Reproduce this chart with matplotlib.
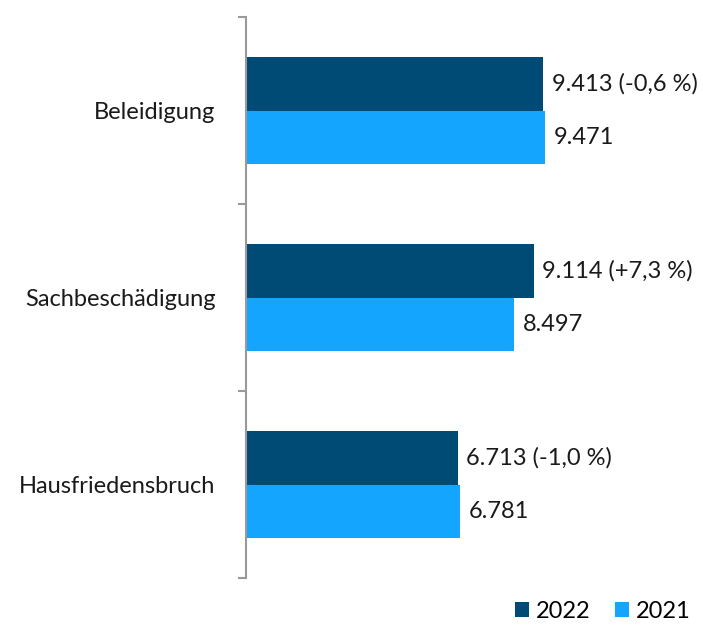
import matplotlib.pyplot as plt
import numpy as np

plt.rcParams['font.family'] = ['Lato', 'DejaVu Sans']

categories = ["Beleidigung", "Sachbeschädigung", "Hausfriedensbruch"]
values_2022 = [9413, 9114, 6713]
values_2021 = [9471, 8497, 6781]
labels_2022 = ["9.413 (-0,6 %)", "9.114 (+7,3 %)", "6.713 (-1,0 %)"]
labels_2021 = ["9.471", "8.497", "6.781"]

dark = "#004B76"
light = "#14A5FF"
fs = 17

fig = plt.figure(figsize=(7.03, 6.28), dpi=100)
ax = fig.add_axes([246 / 703, 1 - 578 / 628, 454 / 703, 561 / 628])

y = np.arange(len(categories))
h = 0.285
b1 = ax.barh(y - h / 2, values_2022, height=h, color=dark, label="2022")
b2 = ax.barh(y + h / 2, values_2021, height=h, color=light, label="2021")

for bars, labs in ((b1, labels_2022), (b2, labels_2021)):
    for bar, lab in zip(bars, labs):
        ax.annotate(lab, (bar.get_width(), bar.get_y() + bar.get_height() / 2),
                    xytext=(6, 0), textcoords="offset points",
                    va="center", ha="left", fontsize=fs, color="#1a1a1a")

ax.set_xlim(0, 14380)
ax.set_ylim(len(categories) - 0.5, -0.5)

for s in ("top", "right", "bottom"):
    ax.spines[s].set_visible(False)
ax.spines["left"].set_color("#999999")
ax.spines["left"].set_linewidth(1.5)

ax.set_xticks([])
ax.set_yticks(y)
ax.set_yticklabels(categories, fontsize=fs, color="#1a1a1a")
ax.tick_params(axis="y", which="major", length=0, pad=22)
ax.set_yticks(np.arange(-0.5, len(categories)), minor=True)
ax.tick_params(axis="y", which="minor", length=6, width=1.5, color="#999999")

ax.legend(loc="lower right", bbox_to_anchor=(1.0, -0.095),
          ncol=2, frameon=False, fontsize=fs, handlelength=0.6, handleheight=0.6,
          handletextpad=0.3, columnspacing=1.0, borderaxespad=0)

fig.savefig("out.png", dpi=100)
